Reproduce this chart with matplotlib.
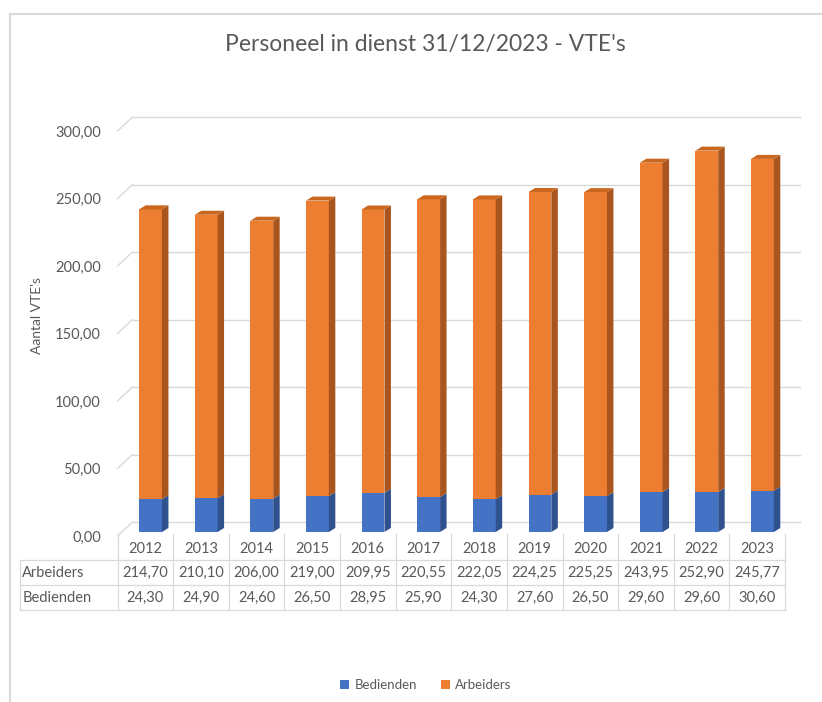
import matplotlib
matplotlib.use('Agg')
import matplotlib.pyplot as plt
from matplotlib.patches import Polygon, Rectangle
from matplotlib.lines import Line2D
from matplotlib.transforms import blended_transform_factory, ScaledTranslation
import numpy as np

# Gegevens
years = ['2012', '2013', '2014', '2015', '2016', '2017',
         '2018', '2019', '2020', '2021', '2022', '2023']
arbeiders = [214.70, 210.10, 206.00, 219.00, 209.95, 220.55,
             222.05, 224.25, 225.25, 243.95, 252.90, 245.77]
bedienden = [24.30, 24.90, 24.60, 26.50, 28.95, 25.90,
             24.30, 27.60, 26.50, 29.60, 29.60, 30.60]
yticks = [0, 50, 100, 150, 200, 250, 300]

blue, blue_side = '#4472C4', '#2F528F'
orange, orange_side, orange_top = '#ED7D31', '#A9561E', '#C9671F'
grey_txt = '#595959'
grid_col = '#D9D9D9'

plt.rcParams['font.family'] = ['Lato', 'DejaVu Sans']

W, H = 822, 702
fig = plt.figure(figsize=(W / 100, H / 100), dpi=100)

# plotgebied in pixels
left_px, right_px, bot_px, top_px = 117.5, 785, 532, 127
ax = fig.add_axes([left_px / W, 1 - bot_px / H,
                   (right_px - left_px) / W, (bot_px - top_px) / H])
ax.set_xlim(-0.5, len(years) - 0.5)
ax.set_ylim(0, 300)
for s in ax.spines.values():
    s.set_visible(False)

unit_px = (right_px - left_px) / len(years)
vpx = (bot_px - top_px) / 300.0

# achterwand rasterlijnen (3D-effect)
wall_dx = 15 / unit_px
wall_dy = 10 / vpx
front_dy = -4 / vpx
for v in yticks:
    ax.plot([-0.5, -0.5 + wall_dx], [v + front_dy, v + wall_dy], color=grid_col, lw=1,
            clip_on=False, zorder=1)
    ax.plot([-0.5 + wall_dx, len(years) - 0.5 + wall_dx], [v + wall_dy, v + wall_dy],
            color=grid_col, lw=1, clip_on=False, zorder=1)

# kolommen
x = np.arange(len(years))
off = 0.094
bw = 0.41
ddx = 6.5 / unit_px
ddy = 4 / vpx
bed = np.array(bedienden)
arb = np.array(arbeiders)
ax.bar(x + off, bed, bw, color=blue, zorder=3, label='Bedienden')
ax.bar(x + off, arb, bw, bottom=bed, color=orange, zorder=3, label='Arbeiders')
for i in range(len(years)):
    xr = x[i] + off + bw / 2
    xl = x[i] + off - bw / 2
    # zijvlakken
    ax.add_patch(Polygon([[xr, 0], [xr + ddx, ddy], [xr + ddx, bed[i] + ddy], [xr, bed[i]]],
                         closed=True, color=blue_side, zorder=3, clip_on=False, lw=0))
    tot = bed[i] + arb[i]
    ax.add_patch(Polygon([[xr, bed[i]], [xr + ddx, bed[i] + ddy], [xr + ddx, tot + ddy], [xr, tot]],
                         closed=True, color=orange_side, zorder=3, clip_on=False, lw=0))
    # bovenvlak
    ax.add_patch(Polygon([[xl, tot], [xl + ddx, tot + ddy], [xr + ddx, tot + ddy], [xr, tot]],
                         closed=True, color=orange_top, zorder=3, clip_on=False, lw=0))

ax.set_xticks([])
ax.set_yticks(yticks)
ax.set_yticklabels([f'{v:.2f}'.replace('.', ',') for v in yticks], color=grey_txt, fontsize=10.5)
ax.tick_params(axis='y', length=0, pad=12)
shift = ScaledTranslation(0, -4 / 100, fig.dpi_scale_trans)
for lbl in ax.get_yticklabels():
    lbl.set_transform(lbl.get_transform() + shift)
ax.set_ylabel("Aantal VTE's", color=grey_txt, fontsize=10)
ax.yaxis.set_label_coords((43 - left_px) / (right_px - left_px), (bot_px - 316) / (bot_px - top_px))

# gegevenstabel onder de grafiek
tr = blended_transform_factory(ax.transData, fig.transFigure)
def fy(py):
    return 1 - py / H
lab_left = (20 - left_px) / unit_px - 0.5
n = len(years)
for k in range(n + 1):
    fig.add_artist(Line2D([k - 0.5, k - 0.5], [fy(534), fy(610)], transform=tr,
                          color=grid_col, lw=0.9))
fig.add_artist(Line2D([lab_left, lab_left], [fy(560), fy(610)], transform=tr, color=grid_col, lw=0.9))
for py in [560, 585, 610]:
    fig.add_artist(Line2D([lab_left, n - 0.5], [fy(py), fy(py)], transform=tr,
                          color=grid_col, lw=0.9))
fmt = lambda v: f'{v:.2f}'.replace('.', ',')
fs = 10.5
for i, yr in enumerate(years):
    fig.text(i, fy(549), yr, transform=tr, ha='center', va='center', fontsize=fs, color=grey_txt)
    fig.text(i, fy(573), fmt(arbeiders[i]), transform=tr, ha='center', va='center', fontsize=fs, color=grey_txt)
    fig.text(i, fy(598), fmt(bedienden[i]), transform=tr, ha='center', va='center', fontsize=fs, color=grey_txt)
fig.text(lab_left + 0.04, fy(573), 'Arbeiders', transform=tr, ha='left', va='center', fontsize=fs, color=grey_txt)
fig.text(lab_left + 0.04, fy(598), 'Bedienden', transform=tr, ha='left', va='center', fontsize=fs, color=grey_txt)

# titel
fig.text(425 / W, fy(45), "Personeel in dienst 31/12/2023 - VTE's", ha='center', va='center',
         fontsize=16.5, color=grey_txt)

# legenda
fig.legend(loc='center', bbox_to_anchor=(426 / W, fy(685)), ncol=2, frameon=False,
           fontsize=9.5, labelcolor=grey_txt, handlelength=0.7, handleheight=0.7,
           handletextpad=0.4, columnspacing=1.8)

# kader
fig.add_artist(Rectangle((10 / W, -0.1), 1.2, fy(14) + 0.1, transform=fig.transFigure,
                         fill=False, edgecolor=grid_col, lw=1.5))

plt.savefig('out.png', dpi=100)
